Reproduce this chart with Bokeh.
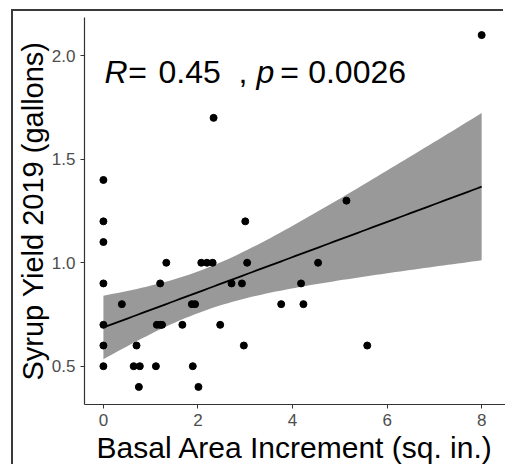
import numpy as np
from bokeh.plotting import figure
from bokeh.models import Range1d, Label, FixedTicker, NumeralTickFormatter, ColumnDataSource
from bokeh.embed import file_html
from bokeh.resources import INLINE

# Data
bai = [2.33, 0.0, 0.0, 0.0, 3.0, 1.33, 2.07, 2.19, 2.31, 3.04,
       0.0, 1.2, 2.71, 2.93, 4.18, 0.39, 1.87, 1.94, 3.76, 4.23,
       0.0, 1.13, 1.2, 1.24, 1.67, 2.47, 0.0, 0.70, 2.97, 0.0,
       0.64, 0.77, 1.11, 1.89, 0.75, 2.01, 8.0, 5.14, 4.54, 5.58]
syrup = [1.70, 1.40, 1.20, 1.10, 1.20, 1.0, 1.0, 1.0, 1.0, 1.0,
         0.9, 0.9, 0.9, 0.9, 0.9, 0.8, 0.8, 0.8, 0.8, 0.8,
         0.7, 0.7, 0.7, 0.7, 0.7, 0.7, 0.6, 0.6, 0.6, 0.5,
         0.5, 0.5, 0.5, 0.5, 0.4, 0.4, 2.1, 1.3, 1.0, 0.6]
x_ticks = [0, 2, 4, 6, 8]
y_ticks = [0.5, 1.0, 1.5, 2.0]
stat_parts = ["R", "=", "0.45", ",", "p", "=", "0.0026"]
stat_italic = [True, False, False, False, True, False, False]
x_title = "Basal Area Increment (sq. in.)"
y_title = "Syrup Yield 2019 (gallons)"

# linear fit with 95% confidence band (as geom_smooth(method="lm"))
x = np.array(bai)
y = np.array(syrup)
n = len(x)
slope, intercept = np.polyfit(x, y, 1)
resid = y - (slope * x + intercept)
s = np.sqrt(np.sum(resid ** 2) / (n - 2))
sxx = np.sum((x - x.mean()) ** 2)
t_crit = 2.0244  # t(0.975, df=38)
xs = np.linspace(x.min(), x.max(), 80)
fit = slope * xs + intercept
se = s * np.sqrt(1.0 / n + (xs - x.mean()) ** 2 / sxx)
band = ColumnDataSource(dict(x=xs, fit=fit, lo=fit - t_crit * se, hi=fit + t_crit * se))

xspan = x.max() - x.min()
yspan = y.max() - y.min()

p = figure(width=492, height=455, output_backend="svg", toolbar_location=None,
           x_range=Range1d(x.min() - 0.05 * xspan, x.max() + 0.063 * xspan),
           y_range=Range1d(y.min() - 0.05 * yspan, y.max() + 0.05 * yspan),
           min_border_left=70, min_border_right=0, min_border_top=6, min_border_bottom=61)
p.styles = {"margin-left": "13px", "margin-top": "11px",
            "box-shadow": "-2px -2px 0px 0px #3a3a3a"}
p.outline_line_color = None
p.grid.visible = False
p.background_fill_color = "white"
p.border_fill_color = "white"

p.varea(x="x", y1="lo", y2="hi", source=band, fill_color="#999999", fill_alpha=1.0)
p.line(x="x", y="fit", source=band, line_color="black", line_width=1.8)
p.scatter(bai, syrup, size=7, fill_color="black", line_color="black")

font = "Liberation Sans"
for ax in (p.xaxis[0], p.yaxis[0]):
    ax.axis_line_color = "#333333"
    ax.axis_line_width = 1.2
    ax.major_tick_line_color = "#333333"
    ax.major_tick_in = 0
    ax.major_tick_out = 4
    ax.minor_tick_line_color = None
    ax.major_label_text_font = font
    ax.major_label_text_font_size = "17px"
    ax.major_label_text_color = "#4d4d4d"
    ax.major_label_standoff = 5
    ax.axis_label_text_font = font
    ax.axis_label_text_font_style = "normal"
    ax.axis_label_text_color = "black"

p.xaxis.ticker = FixedTicker(ticks=x_ticks)
p.yaxis.ticker = FixedTicker(ticks=y_ticks)
p.yaxis.formatter = NumeralTickFormatter(format="0.0")
p.xaxis.axis_label = x_title
p.yaxis.axis_label = y_title
p.xaxis.axis_label_text_font_size = "30px"
p.yaxis.axis_label_text_font_size = "29px"
p.xaxis.axis_label_standoff = 2
p.yaxis.axis_label_standoff = 0

# correlation label, pieces centred at pixel offsets from the label anchor
centres = [9.0, 30.5, 82.5, 135.8, 158.3, 182.5, 250.0]
for txt, it, off in zip(stat_parts, stat_italic, centres):
    p.add_layout(Label(x=0.078, y=1.923, x_offset=off, text=txt, text_font=font,
                       text_font_size="32px", text_color="black",
                       text_font_style="italic" if it else "normal",
                       text_baseline="alphabetic", text_align="center"))

open("out.html", "w").write(file_html(p, INLINE))
